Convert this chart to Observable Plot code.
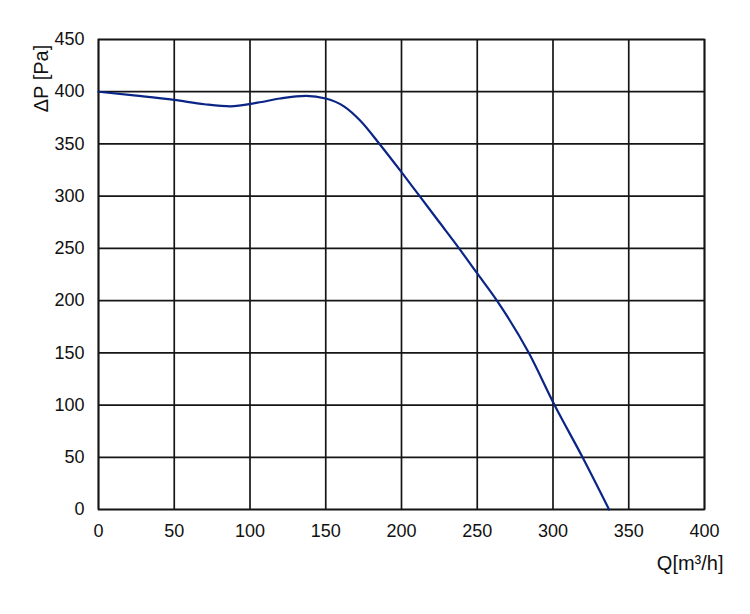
<!DOCTYPE html>
<html>
<head>
<meta charset="utf-8">
<script src="https://cdn.jsdelivr.net/npm/d3@7"></script>
<script src="https://cdn.jsdelivr.net/npm/@observablehq/plot@0.6"></script>
<style>
  html, body { margin: 0; padding: 0; background: #fff; }
  svg { display: block; }
</style>
</head>
<body>
<div id="chart"></div>
<script>
const flowQ = [0, 25, 50, 70, 87, 105, 120, 137, 150, 162, 173, 185.5, 200, 212, 225, 238, 250, 263, 284, 301, 319.5, 337];
const pressureP = [400, 396.3, 392.2, 388, 386, 389.5, 393.5, 396, 393.5, 386, 372, 350, 323, 300, 275, 250, 226, 200, 150, 100, 50, 0];
const xTicks = [0, 50, 100, 150, 200, 250, 300, 350, 400];
const yTicks = [0, 50, 100, 150, 200, 250, 300, 350, 400, 450];
const yLabel = "ΔP [Pa]";
const xLabel = "Q[m³/h]";

const data = flowQ.map((q, i) => ({q, p: pressureP[i]}));

const chart = Plot.plot({
  width: 750,
  height: 614,
  marginLeft: 98,
  marginRight: 46,
  marginTop: 39,
  marginBottom: 105,
  style: {fontFamily: "Liberation Sans, Arial, sans-serif", fontSize: "18px", color: "#111", background: "#fff"},
  x: {domain: [0, 400], ticks: xTicks, tickSize: 0, tickPadding: 15, label: null},
  y: {domain: [0, 450], ticks: yTicks, tickSize: 0, tickPadding: 14, label: null},
  marks: [
    Plot.gridX(xTicks, {stroke: "#151515", strokeOpacity: 1, strokeWidth: 1.7}),
    Plot.gridY(yTicks, {stroke: "#151515", strokeOpacity: 1, strokeWidth: 1.7}),
    Plot.frame({stroke: "#151515", strokeWidth: 1.7}),
    Plot.line(data, {x: "q", y: "p", curve: "monotone-x", stroke: "#0a2585", strokeWidth: 2.2}),
    Plot.text([yLabel], {frameAnchor: "top-left", dx: -65, dy: 39, rotate: -90, text: d => d, fontSize: 20, fill: "#111", textAnchor: "middle"}),
    Plot.text([xLabel], {frameAnchor: "bottom-right", dx: 19, dy: 60, text: d => d, fontSize: 20, fill: "#111", textAnchor: "end"})
  ]
});
document.getElementById("chart").appendChild(chart);
</script>
</body>
</html>
